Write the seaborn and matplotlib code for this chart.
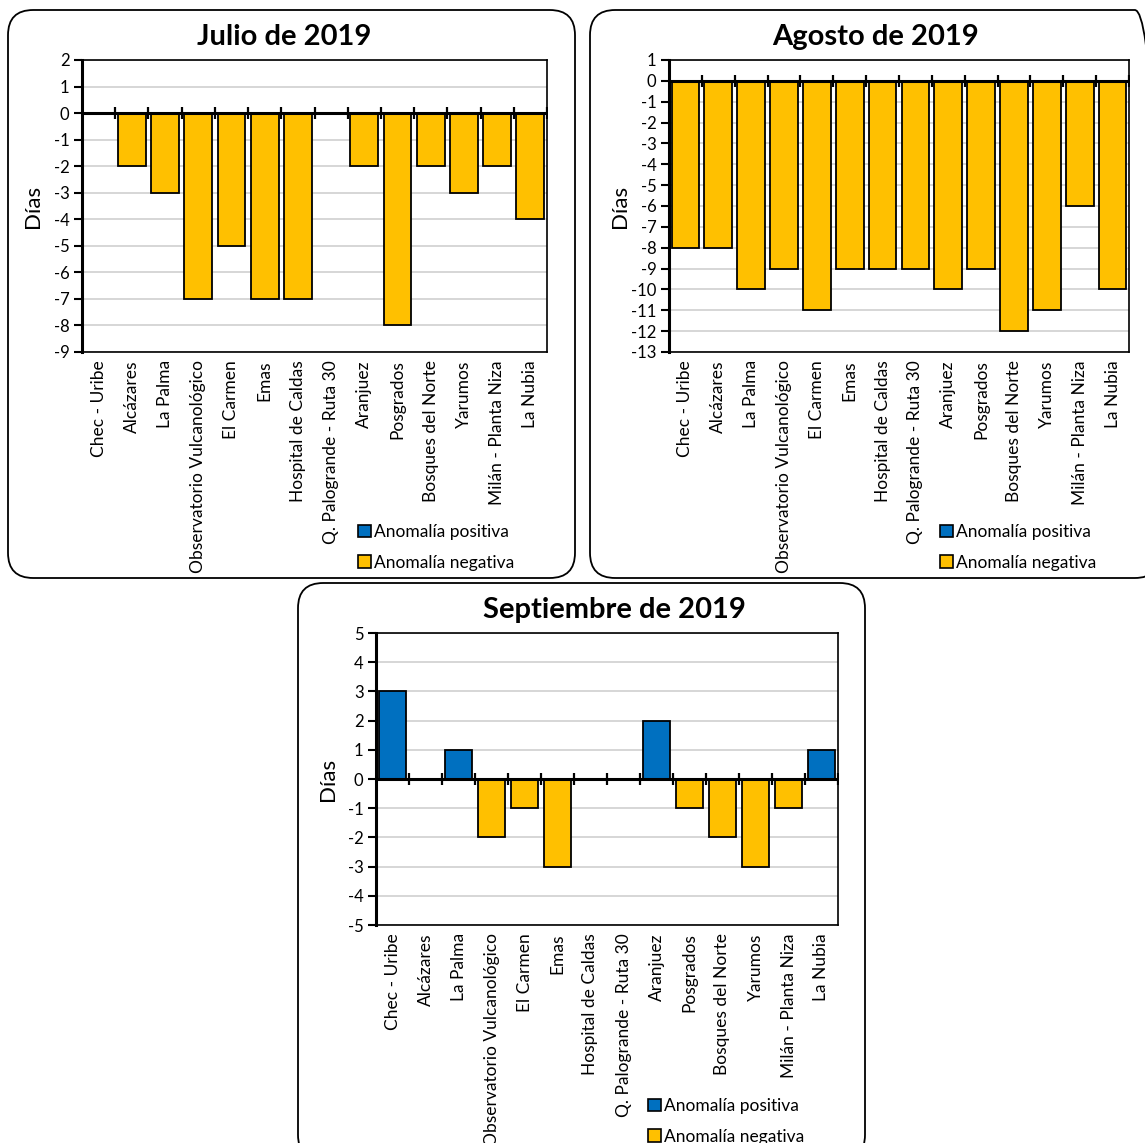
import numpy as np
import pandas as pd
import matplotlib
matplotlib.use("Agg")
import matplotlib.pyplot as plt
from matplotlib.patches import FancyBboxPatch, Patch
import seaborn as sns

stations = ["Chec - Uribe", "Alcázares", "La Palma", "Observatorio Vulcanológico",
            "El Carmen", "Emas", "Hospital de Caldas", "Q. Palogrande - Ruta 30",
            "Aranjuez", "Posgrados", "Bosques del Norte", "Yarumos",
            "Milán - Planta Niza", "La Nubia"]
julio = [0, -2, -3, -7, -5, -7, -7, 0, -2, -8, -2, -3, -2, -4]
agosto = [-8, -8, -10, -9, -11, -9, -9, -9, -10, -9, -12, -11, -6, -10]
septiembre = [3, 0, 1, -2, -1, -3, 0, 0, 2, -1, -2, -3, -1, 1]
titles = ["Julio de 2019", "Agosto de 2019", "Septiembre de 2019"]
ylims = [(-9, 2), (-13, 1), (-5, 5)]
pos_label = "Anomalía positiva"
neg_label = "Anomalía negativa"
colors = {pos_label: "#0070C0", neg_label: "#FFC000"}

sns.set_theme(style="white")
plt.rcParams["font.family"] = ["Lato", "DejaVu Sans"]
plt.rcParams["axes.unicode_minus"] = False

W, H = 1145, 1143
fig = plt.figure(figsize=(W / 100, H / 100), dpi=100)

def fx(px):
    return px / W

def fy(py):
    return 1 - py / H

# rounded boxes (px: x0, y0, x1, y1)
boxes = [(8, 10, 575, 578), (590, 10, 1160, 578), (298, 583, 865, 1160)]
for x0, y0, x1, y1 in boxes:
    p = FancyBboxPatch((fx(x0), fy(y1)), fx(x1 - x0), (y1 - y0) / H,
                       boxstyle="round,pad=0,rounding_size=0.022",
                       transform=fig.transFigure, facecolor="none",
                       edgecolor="black", lw=1.3, zorder=-5)
    fig.patches.append(p)

# axes rects in px: left, top, right, bottom
rects = [(82, 60, 547, 352), (669, 60, 1129, 352), (376, 633, 838, 925)]
title_pos = [(284, 37), (876, 37), (614, 610)]
ylabel_x = [33, 620, 328]
legend_pos = [(358, 524), (940, 524), (648, 1098)]
datasets = [julio, agosto, septiembre]

for i, vals in enumerate(datasets):
    l, t, r, b = rects[i]
    ax = fig.add_axes([fx(l), fy(b), fx(r - l), (b - t) / H])
    ax.set_zorder(2)
    df = pd.DataFrame({"station": stations, "value": vals})
    df["tipo"] = np.where(df["value"] > 0, pos_label, neg_label)
    df = df[df["value"] != 0]
    sns.barplot(data=df, x="station", y="value", hue="tipo", order=stations,
                hue_order=[pos_label, neg_label], palette=colors, dodge=False,
                saturation=1, width=0.84, edgecolor="black", linewidth=1.3,
                legend=False, ax=ax, zorder=3)
    lo, hi = ylims[i]
    ax.set_ylim(lo, hi)
    ax.set_xlim(-0.5, len(stations) - 0.5)
    ax.set_yticks(range(lo, hi + 1))
    ax.yaxis.grid(True, color="#D0D0D0", lw=1.2, zorder=0)
    ax.set_axisbelow(True)
    ax.axhline(0, color="black", lw=2.2, zorder=4)
    ax.plot(np.arange(-0.5, len(stations), 1.0), np.zeros(len(stations) + 1),
            ls="none", marker="|", markersize=9, mew=1.6, color="black", zorder=5)
    for s in ["top", "right", "bottom"]:
        ax.spines[s].set_color("black")
        ax.spines[s].set_linewidth(1.2)
    ax.spines["left"].set_color("black")
    ax.spines["left"].set_linewidth(2.2)
    ax.tick_params(axis="y", direction="out", length=6, width=1.5, color="black",
                   left=True, labelsize=12, pad=3, labelcolor="black")
    ax.tick_params(axis="x", length=0, labelsize=12.5, pad=6, labelcolor="black")
    ax.set_xticks(range(len(stations)))
    ax.set_xticklabels(stations, rotation=90, va="top", ha="center")
    ax.set_xlabel("")
    ax.set_ylabel("")
    fig.text(fx(ylabel_x[i]), fy((t + b) / 2), "Días", rotation=90, fontsize=16,
             ha="center", va="center", color="black")
    fig.text(fx(title_pos[i][0]), fy(title_pos[i][1]), titles[i], fontsize=21,
             fontweight="bold", ha="center", va="center", color="black")
    handles = [Patch(facecolor=colors[pos_label], edgecolor="black", lw=1.2),
               Patch(facecolor=colors[neg_label], edgecolor="black", lw=1.2)]
    leg = fig.legend(handles, [pos_label, neg_label], loc="upper left",
                     bbox_to_anchor=(fx(legend_pos[i][0]), fy(legend_pos[i][1])),
                     frameon=False, fontsize=12.5, handlelength=0.75, handleheight=0.75,
                     handletextpad=0.2, labelspacing=0.85, borderaxespad=0, borderpad=0)
    for txt in leg.get_texts():
        txt.set_color("black")

fig.savefig("out.png", dpi=100)
